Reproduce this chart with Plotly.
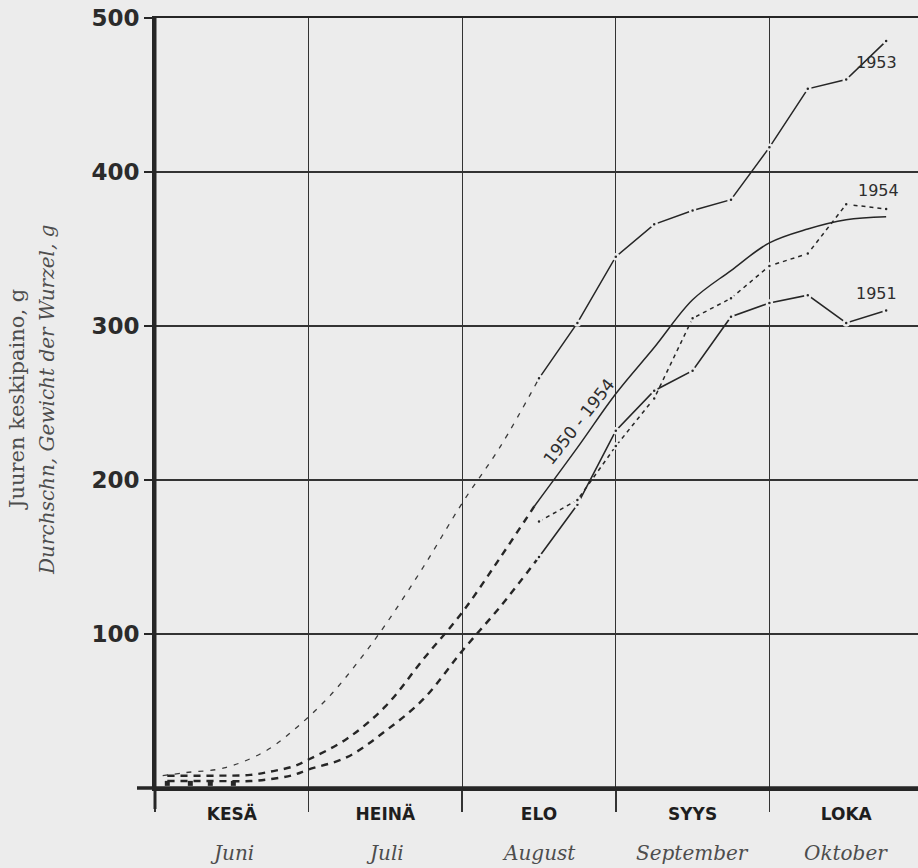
import plotly.graph_objects as go

# ---------------- data ----------------
months_fi = ["KESÄ", "HEINÄ", "ELO", "SYYS", "LOKA"]
months_de = ["Juni", "Juli", "August", "September", "Oktober"]
month_centers = [0.5, 1.5, 2.5, 3.5, 4.5]
y_ticks = [100, 200, 300, 400, 500]

# observed dates (months since 1 June)
obs_x = [2.5, 2.75, 3.0, 3.25, 3.5, 3.75, 4.0, 4.25, 4.5, 4.76]
y1953 = [266, 302, 345, 366, 375, 382, 416, 454, 460, 485]
y1954 = [173, 187, 222, 253, 305, 318, 339, 347, 379, 376]
y1951 = [150, 184, 232, 258, 271, 306, 315, 320, 302, 310]

mean_x = [2.47, 2.75, 3.0, 3.25, 3.5, 3.75, 4.0, 4.25, 4.5, 4.76]
mean_y = [183, 221, 256, 286, 317, 336, 354, 363, 369, 371]

# extrapolated (dashed) early-season curves
ext1953_x = [0.05, 0.2, 0.45, 0.72, 0.93, 1.14, 1.33, 1.5, 1.75, 2.0, 2.25, 2.5]
ext1953_y = [8, 10, 13, 24, 40, 60, 83, 106, 144, 185, 222, 266]

extmean_x = [0.08, 0.4, 0.62, 0.77, 0.9, 1.0, 1.25, 1.5, 1.75, 2.0, 2.25, 2.47]
extmean_y = [8, 8, 8.5, 11, 14, 18.5, 32, 53, 84, 114, 150, 183]

ext1951_x = [0.08, 0.4, 0.62, 0.77, 0.9, 1.0, 1.25, 1.5, 1.75, 2.0, 2.25, 2.5]
ext1951_y = [4.5, 4.5, 4.5, 6, 8.4, 12, 20, 37, 58, 89, 118, 150]

june_x = [0.08, 0.23, 0.36, 0.51]
june_y = [3, 3, 3, 3]

# ---------------- style ----------------
BG = "#ececec"
INK = "#262626"
GREY = "#4d4d4d"

fig = go.Figure()

fig.add_trace(go.Scatter(x=ext1953_x, y=ext1953_y, mode="lines",
                         line=dict(color="#3a3a3a", width=1.3, dash="5px,7px", shape="spline")))
fig.add_trace(go.Scatter(x=extmean_x, y=extmean_y, mode="lines",
                         line=dict(color=INK, width=2.4, dash="7px,6px", shape="spline")))
fig.add_trace(go.Scatter(x=ext1951_x, y=ext1951_y, mode="lines",
                         line=dict(color=INK, width=2.4, dash="7px,6px", shape="spline")))
fig.add_trace(go.Scatter(x=june_x, y=june_y, mode="markers",
                         marker=dict(symbol="square", size=5, color=INK)))

fig.add_trace(go.Scatter(x=mean_x, y=mean_y, mode="lines",
                         line=dict(color=INK, width=1.5, shape="spline", smoothing=1.0)))

dot = dict(size=5, color=INK, line=dict(color=BG, width=2.5))
fig.add_trace(go.Scatter(x=obs_x, y=y1951, mode="lines+markers",
                         line=dict(color=INK, width=1.6), marker=dot))
fig.add_trace(go.Scatter(x=obs_x, y=y1954, mode="lines+markers",
                         line=dict(color=INK, width=1.5, dash="4px,4px"), marker=dot))
fig.add_trace(go.Scatter(x=obs_x, y=y1953, mode="lines+markers",
                         line=dict(color=INK, width=1.5), marker=dot))

# ---------------- layout ----------------
W, H = 918, 868
L, R, T, B = 155, 0, 18, 80
pw = W - L - R
ph = H - T - B
x_max = pw / 153.6

fig.update_layout(
    width=W, height=H, autosize=False,
    margin=dict(l=L, r=R, t=T, b=B, pad=0),
    paper_bgcolor=BG, plot_bgcolor=BG,
    showlegend=False, hovermode=False,
)

fig.update_xaxes(
    range=[0, x_max], showgrid=False, zeroline=False,
    tickvals=month_centers, ticktext=months_fi, ticks="",
    ticklabelstandoff=9,
    tickfont=dict(family="DejaVu Sans", size=17, color="#1e1e1e", weight="bold"),
    showline=True, linewidth=2.5, linecolor=INK, mirror=True,
    minor=dict(tick0=0, dtick=1, showgrid=True, gridcolor="#333333", gridwidth=1.3,
               ticks="outside", ticklen=21, tickwidth=1.5, tickcolor="#333333"),
)

fig.update_yaxes(
    range=[0, 500], tickvals=y_ticks, ticktext=[str(v) for v in y_ticks],
    ticks="outside", ticklen=8, tickwidth=1.5, tickcolor=INK,
    tickfont=dict(family="DejaVu Sans", size=23, color="#2b2b2b", weight="bold"),
    ticklabeloverflow="allow",
    showgrid=True, gridcolor="#333333", gridwidth=1.5,
    zeroline=False, showline=True, linewidth=3, linecolor=INK,
)

# heavier bottom axis extended to the left, and left axis extended below
fig.add_shape(type="line", xref="paper", yref="paper",
              x0=-18 / pw, x1=1, y0=0, y1=0, line=dict(color=INK, width=3.5))
fig.add_shape(type="line", xref="paper", yref="paper",
              x0=0, x1=0, y0=-21 / ph, y1=1, line=dict(color=INK, width=3))

annotations = []
for xc, name in zip(month_centers, months_de):
    annotations.append(dict(
        x=xc, xref="x", y=-65 / ph, yref="paper", text=name, showarrow=False,
        xanchor="center", yanchor="middle",
        font=dict(family="DejaVu Serif", size=20, color=GREY, style="italic")))

annotations.append(dict(
    x=-138 / pw, xref="paper", y=0.504, yref="paper", text="Juuren keskipaino, g",
    textangle=-90, showarrow=False, xanchor="center", yanchor="middle",
    font=dict(family="DejaVu Serif", size=21, color=GREY)))
annotations.append(dict(
    x=-108 / pw, xref="paper", y=0.504, yref="paper",
    text="Durchschn, Gewicht der Wurzel, g",
    textangle=-90, showarrow=False, xanchor="center", yanchor="middle",
    font=dict(family="DejaVu Serif", size=20, color=GREY, style="italic")))

lab_font = dict(family="DejaVu Sans", size=16, color="#2e2e2e")
annotations += [
    dict(x=4.7, y=470.8, text="1953", showarrow=False, font=lab_font),
    dict(x=4.71, y=387.9, text="1954", showarrow=False, font=lab_font),
    dict(x=4.7, y=321.4, text="1951", showarrow=False, font=lab_font),
    dict(x=2.756, y=237.9, text="1950 - 1954", textangle=-52, showarrow=False,
         font=dict(family="DejaVu Sans", size=17, color="#2e2e2e")),
]
fig.update_layout(annotations=annotations)

# remove the page's default body margin so the figure fills the window exactly
page_js = ("document.body.style.margin='0';"
           "document.body.style.background='" + BG + "';"
           "document.documentElement.style.overflow='hidden';")
fig.write_html("out.html", post_script=page_js,
               config={"displayModeBar": False, "staticPlot": True})
